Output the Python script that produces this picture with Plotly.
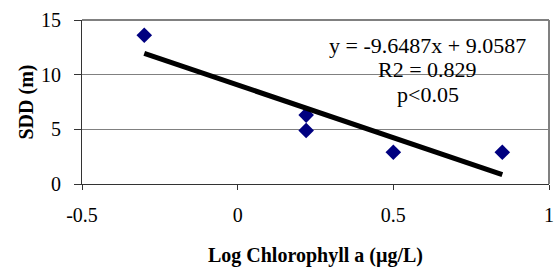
import plotly.graph_objects as go

# Data
log_chl = [-0.30, 0.22, 0.22, 0.50, 0.85]
sdd = [13.6, 6.3, 4.9, 2.9, 2.9]

trend_x = [-0.30, 0.85]
trend_y = [11.95, 0.86]

x_tick_vals = [-0.5, 0, 0.5, 1]
x_tick_text = ["-0.5", "0", "0.5", "1"]
y_tick_vals = [0, 5, 10, 15]
y_tick_text = ["0", "5", "10", "15"]

eq_lines = ["y = -9.6487x + 9.0587", "R2 = 0.829", "p<0.05"]
eq_y = [12.63, 10.46, 8.2]
eq_x = 0.61

FONT = "Liberation Serif"

fig = go.Figure()
fig.add_trace(go.Scatter(
    x=log_chl, y=sdd, mode="markers",
    marker=dict(symbol="diamond", size=12, color="#000080", line=dict(width=0)),
    showlegend=False, hoverinfo="skip"))
fig.add_trace(go.Scatter(
    x=trend_x, y=trend_y, mode="lines",
    line=dict(color="black", width=5),
    showlegend=False, hoverinfo="skip"))

for txt, yy in zip(eq_lines, eq_y):
    fig.add_annotation(x=eq_x, y=yy, xref="x", yref="y", text=txt,
                       showarrow=False, xanchor="center", yanchor="middle",
                       font=dict(family=FONT, size=22, color="black"))

# grey plot-area border (top and right)
fig.add_shape(type="line", xref="paper", yref="paper", x0=0, x1=1, y0=1, y1=1,
              line=dict(color="#808080", width=2))
fig.add_shape(type="line", xref="paper", yref="paper", x0=1, x1=1, y0=0, y1=1,
              line=dict(color="#808080", width=2))

fig.update_layout(
    width=555, height=267,
    margin=dict(l=82, r=6, t=20, b=83, autoexpand=False),
    paper_bgcolor="white", plot_bgcolor="white",
    font=dict(family=FONT, size=20, color="black"),
    xaxis=dict(range=[-0.5, 1], tickvals=x_tick_vals, ticktext=x_tick_text,
               ticks="outside", ticklen=5, tickcolor="#333333",
               ticklabelstandoff=8,
               showline=True, linecolor="#333333", linewidth=1,
               showgrid=False, zeroline=False, automargin=False,
               tickfont=dict(family=FONT, size=20),
               title=dict(text="<b>Log Chlorophyll a (µg/L)</b>", standoff=27,
                          font=dict(family=FONT, size=20))),
    yaxis=dict(range=[0, 15], tickvals=y_tick_vals, ticktext=y_tick_text,
               ticks="outside", ticklen=7, tickcolor="#333333",
               ticklabelstandoff=9,
               showline=True, linecolor="#333333", linewidth=1,
               showgrid=True, gridcolor="#808080", gridwidth=1,
               zeroline=False, automargin=False,
               tickfont=dict(family=FONT, size=20),
               title=dict(text="<b>SDD (m)</b>", standoff=2,
                          font=dict(family=FONT, size=20))),
)

fig.write_html("out.html", config={"displayModeBar": False},
               post_script="document.body.style.margin='0';document.body.style.overflow='hidden';")
